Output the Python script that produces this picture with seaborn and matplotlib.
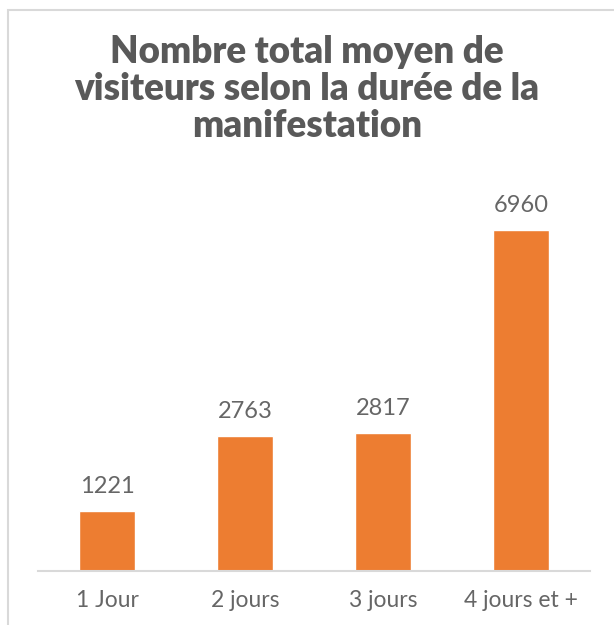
import matplotlib
matplotlib.use("Agg")
import matplotlib.pyplot as plt
from matplotlib.patches import Rectangle
import pandas as pd
import seaborn as sns

# données
durees = ['1 Jour', '2 jours', '3 jours', '4 jours et +']
visiteurs = [1221, 2763, 2817, 6960]

sns.set_theme(style='white')
plt.rcParams['font.family'] = ['Lato', 'DejaVu Sans']

df = pd.DataFrame({'duree': durees, 'visiteurs': visiteurs})

W, H = 614, 625
fig = plt.figure(figsize=(W / 100, H / 100), dpi=100)
ax = fig.add_axes([38 / W, (H - 571) / H, (590 - 38) / W, (571 - 179) / H])

sns.barplot(data=df, x='duree', y='visiteurs', color='#ED7D31', width=0.4,
            saturation=1, ax=ax)

ax.set_xlim(-0.5, 3.5)
ax.set_ylim(0, 8000)
ax.set_xlabel('')
ax.set_ylabel('')
ax.set_yticks([])
for s in ['top', 'right', 'left']:
    ax.spines[s].set_visible(False)
ax.spines['bottom'].set_color('#d9d9d9')
ax.spines['bottom'].set_linewidth(1.5)
ax.tick_params(axis='x', length=0, pad=14, labelsize=16.5, colors='#666666')

for i, v in enumerate(visiteurs):
    ax.annotate(str(v), (i, v), xytext=(0, 10), textcoords='offset points',
                ha='center', va='bottom', fontsize=17, color='#666666')

# titre
fig.text(0.5, (H - 89) / H,
         'Nombre total moyen de\nvisiteurs selon la durée de la\nmanifestation',
         ha='center', va='center', fontsize=26.5, fontweight='heavy',
         color='#595959', linespacing=1.12)

# cadre
fig.patches.append(Rectangle((8 / W, -0.1), 1.2, (H - 10) / H + 0.1,
                             transform=fig.transFigure, fill=False,
                             edgecolor='#d9d9d9', linewidth=1.5))

fig.savefig('out.png', dpi=100)
